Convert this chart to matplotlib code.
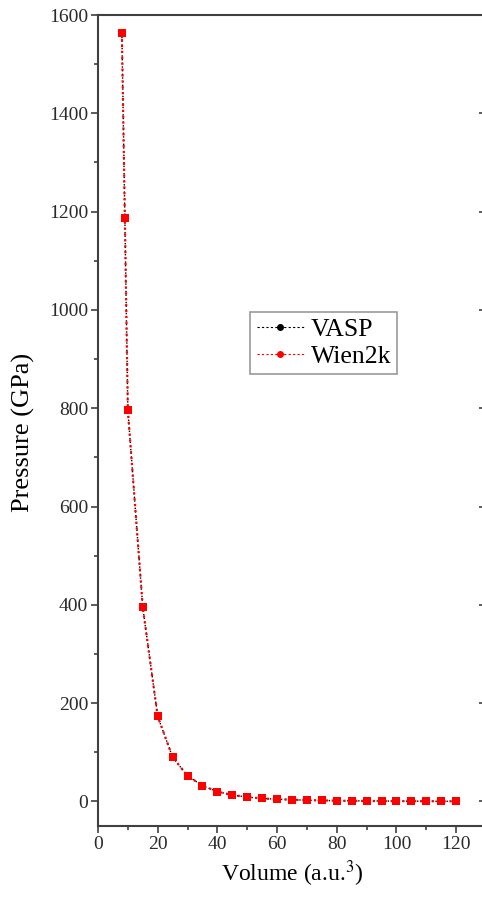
import matplotlib.pyplot as plt
from matplotlib.lines import Line2D
from matplotlib.ticker import MultipleLocator

plt.rcParams['font.family'] = ['Liberation Serif', 'DejaVu Serif']
plt.rcParams['mathtext.fontset'] = 'stix'

volume = [8, 9, 10, 15, 20, 25, 30, 35, 40, 45, 50, 55, 60, 65, 70, 75, 80,
          85, 90, 95, 100, 105, 110, 115, 120]
p_vasp = [1563, 1187, 796, 395, 173, 90, 52, 32, 20, 13, 9, 6, 4.5, 3.5, 2.5,
          2, 1.5, 1.2, 1.0, 0.8, 0.6, 0.5, 0.4, 0.3, 0.2]
p_wien = [1563, 1187, 796, 395, 173, 90, 52, 32, 20, 13, 9, 6, 4.5, 3.5, 2.5,
          2, 1.5, 1.2, 1.0, 0.8, 0.6, 0.5, 0.4, 0.3, 0.2]

fig = plt.figure(figsize=(4.82, 8.98), dpi=100)
ax = fig.add_axes([98/482, 1-826/898, (486-98)/482, (826-15)/898])

ax.plot(volume, p_vasp, color='black', ls=':', lw=1.0, marker='s', ms=4.8,
        mec='black', mfc='black', mew=0)
ax.plot(volume, p_wien, color='red', ls=':', lw=1.6, marker='s', ms=5.4,
        mec='red', mfc='red', mew=0)

ax.set_xlim(0, 130)
ax.set_ylim(-50, 1600)
ax.xaxis.set_major_locator(MultipleLocator(20))
ax.xaxis.set_minor_locator(MultipleLocator(10))
ax.yaxis.set_major_locator(MultipleLocator(200))
ax.yaxis.set_minor_locator(MultipleLocator(100))

spc = '#404040'
for s in ax.spines.values():
    s.set_color(spc)
    s.set_linewidth(1.5)
ax.tick_params(which='both', direction='out', color=spc, width=1.2,
               labelsize=14, labelcolor='#2a2a2a', pad=2)
ax.tick_params(which='major', length=5)
ax.tick_params(which='minor', length=3)
# mirror ticks on the right side point inward
ax.tick_params(axis='y', which='both', right=True)
for t in ax.yaxis.get_major_ticks() + ax.yaxis.get_minor_ticks():
    t.tick2line.set_marker(0)

ax.set_xlabel('Volume (a.u.$^3$)', fontsize=17, labelpad=4)
ax.set_ylabel('Pressure (GPa)', fontsize=19)
ax.yaxis.set_label_coords(-0.162, 0.485)

handles = [Line2D([], [], color='black', ls=(0, (2, 2)), lw=0.8, marker='o', ms=4),
           Line2D([], [], color='red', ls=(0, (2, 2)), lw=0.8, marker='o', ms=4)]
leg = ax.legend(handles, ['VASP', 'Wien2k'], loc='upper left',
                bbox_to_anchor=(0.392, 0.634), fontsize=18.5, fancybox=False,
                edgecolor='#808080', handlelength=1.85, handletextpad=0.25,
                borderpad=0.25, labelspacing=0.15, borderaxespad=0)
leg.get_frame().set_linewidth(1.2)

fig.savefig('out.png', dpi=100)
